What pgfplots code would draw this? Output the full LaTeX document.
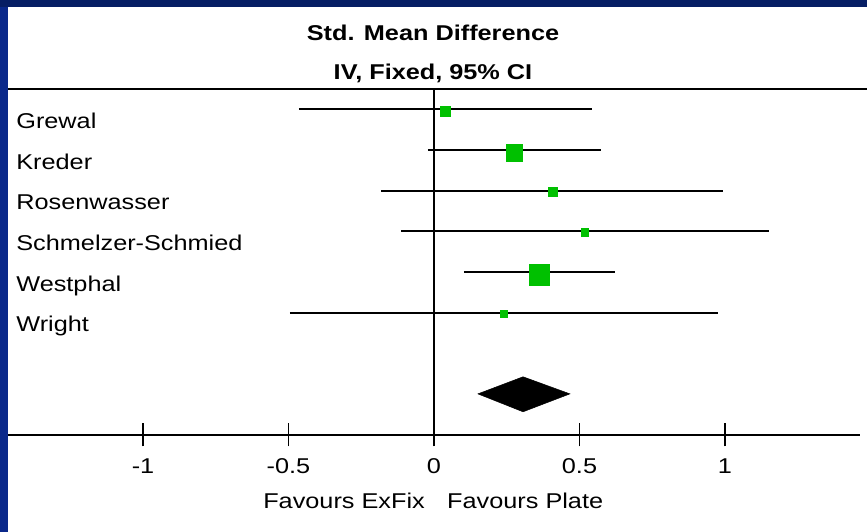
\documentclass[border=0pt]{standalone}
\usepackage{fontspec}
\setmainfont{Liberation Sans}[FakeStretch=1.18]
\usepackage{pgfplots}
\pgfplotsset{compat=1.18}
\definecolor{navyL}{RGB}{10,40,138}
\definecolor{navyT}{RGB}{6,30,100}
\definecolor{sqgreen}{RGB}{0,192,0}

\begin{document}
\begin{tikzpicture}[x=1bp,y=1bp,every node/.style={font=\fontsize{21.5}{26}\selectfont, inner sep=0pt}]
\useasboundingbox (0,0) rectangle (867,532);
\fill[navyL] (0,0) rectangle (867,532);
\fill[navyT] (0,525) rectangle (867,532);
\fill[white] (8,0) rectangle (867,525);
\node[anchor=base, font=\fontsize{21.5}{26}\selectfont\bfseries] at (433,491) {Std. Mean Difference};
\node[anchor=base, font=\fontsize{21.5}{26}\selectfont\bfseries] at (433,452) {IV, Fixed, 95\% CI};
\draw[line width=1.8bp] (8,443) -- (867,443);
\begin{axis}[
  at={(8bp,97bp)}, anchor=south west,
  width=852bp, height=346bp, scale only axis,
  xmin=-1.464, xmax=1.464, ymin=0, ymax=8.5,
  axis x line=bottom, axis y line=none,
  xtick={-1,-0.5,0,0.5,1},
  xticklabels={-1,-0.5,0,0.5,1},
  tick align=center, major tick length=23bp,
  x axis line style={line width=1.5bp, -},
  xtick style={line width=1.5bp, black},
  xticklabel style={font=\fontsize{21.5}{26}\selectfont, anchor=base, yshift=-27bp, inner sep=0pt},
  clip=false,
  unbounded coords=jump,
]
% line of no effect
\addplot[black, line width=1.8bp] coordinates {(0,0) (0,8.5)};
% confidence intervals
\addplot[black, line width=2bp] coordinates {
(-0.464,8) (0.543,8) (nan,nan)
(-0.021,7) (0.574,7) (nan,nan)
(-0.182,6) (0.993,6) (nan,nan)
(-0.113,5) (1.151,5) (nan,nan)
(0.103,4) (0.622,4) (nan,nan)
(-0.495,3) (0.976,3)
};
% study weights (squares)
\addplot[only marks, mark=square*, mark size=5bp, mark options={draw=sqgreen, fill=sqgreen, line width=0pt}] coordinates {(0.038,7.95)};
\addplot[only marks, mark=square*, mark size=8.3bp, mark options={draw=sqgreen, fill=sqgreen, line width=0pt}] coordinates {(0.276,6.93)};
\addplot[only marks, mark=square*, mark size=4.3bp, mark options={draw=sqgreen, fill=sqgreen, line width=0pt}] coordinates {(0.409,5.97)};
\addplot[only marks, mark=square*, mark size=3.8bp, mark options={draw=sqgreen, fill=sqgreen, line width=0pt}] coordinates {(0.519,4.98)};
\addplot[only marks, mark=square*, mark size=10.3bp, mark options={draw=sqgreen, fill=sqgreen, line width=0pt}] coordinates {(0.362,3.93)};
\addplot[only marks, mark=square*, mark size=3.6bp, mark options={draw=sqgreen, fill=sqgreen, line width=0pt}] coordinates {(0.241,2.97)};
% pooled diamond
\addplot[fill=black, draw=black, line width=0.5bp] coordinates {(0.151,1.01) (0.306,1.43) (0.467,1.01) (0.306,0.57)} -- cycle;
% study labels
\node[anchor=base west] at (axis cs:-1.436,8) [yshift=-19bp] {Grewal};
\node[anchor=base west] at (axis cs:-1.436,7) [yshift=-19bp] {Kreder};
\node[anchor=base west] at (axis cs:-1.436,6) [yshift=-19bp] {Rosenwasser};
\node[anchor=base west] at (axis cs:-1.436,5) [yshift=-19bp] {Schmelzer-Schmied};
\node[anchor=base west] at (axis cs:-1.436,4) [yshift=-19bp] {Westphal};
\node[anchor=base west] at (axis cs:-1.436,3) [yshift=-19bp] {Wright};
\end{axis}
\node[anchor=base east] at (425,23) {Favours ExFix};
\node[anchor=base west] at (447,23) {Favours Plate};
\end{tikzpicture}
\end{document}
